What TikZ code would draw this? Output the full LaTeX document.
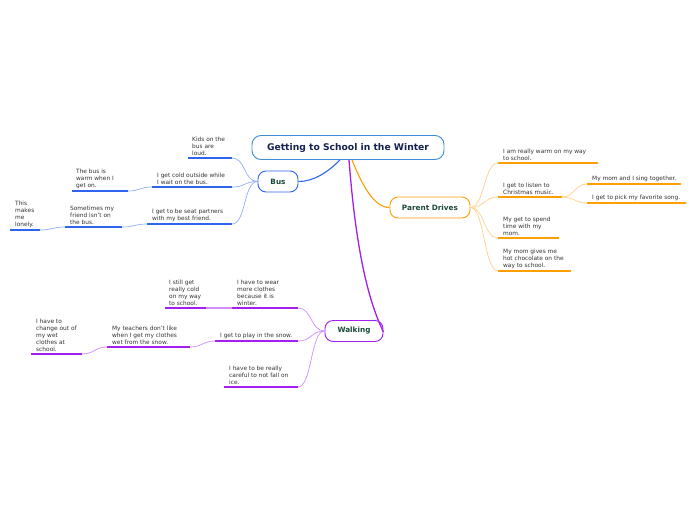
\documentclass[tikz,border=0pt]{standalone}
\usepackage{fontspec}
\setmainfont{DejaVu Sans}
\definecolor{rootline}{HTML}{3A8FD8}
\definecolor{roottext}{HTML}{14224F}
\definecolor{topictext}{HTML}{1B4A3C}
\definecolor{leaftext}{HTML}{333333}
\definecolor{cblue}{HTML}{2F64F0}
\definecolor{lblue}{HTML}{8FACF6}
\definecolor{corange}{HTML}{FF9E00}
\definecolor{lorange}{HTML}{FFD08A}
\definecolor{cpurple}{HTML}{A21FF0}
\definecolor{lpurple}{HTML}{CF8FF6}
\begin{document}
\begin{tikzpicture}[x=1pt,y=-1pt,
  topic/.style={draw, rounded corners=8pt, line width=0.9pt, fill=white,
    font=\fontsize{7.3}{8}\selectfont\bfseries, text=topictext, minimum height=21pt, inner sep=0pt},
  leaf/.style={anchor=south west, inner sep=0pt, align=left,
    font=\fontsize{5.85}{7}\selectfont, text=leaftext},
  uline/.style={line width=1.3pt},
  link/.style={line width=0.7pt},
  mainlink/.style={line width=1.1pt}]
\useasboundingbox (0,0) rectangle (696,520);

% root
\node[draw=rootline, line width=0.9pt, rounded corners=9pt, fill=white, minimum width=192pt,
  minimum height=24pt, inner sep=0pt, font=\fontsize{9.2}{11}\selectfont\bfseries, text=roottext]
  (root) at (348,147.5) {Getting to School in the Winter};

% topics
\node[topic, draw=cblue, minimum width=40pt] (bus) at (278,181.5) {Bus};
\node[topic, draw=corange, minimum width=80pt] (par) at (430,207.5) {Parent Drives};
\node[topic, draw=cpurple, minimum width=58pt] (walk) at (354,331) {Walking};

\coordinate (rb) at ([xshift=-8pt]root.south);
\coordinate (ro) at ([xshift=4pt]root.south);
\coordinate (rp) at ([xshift=1pt]root.south);
\coordinate (wr) at ([yshift=-1pt]walk.east);

\draw[mainlink, cblue] (rb) .. controls (328,172) and (314,181.5) .. (bus.east);
\draw[mainlink, corange] (ro) .. controls (362,185) and (374,207.5) .. (par.west);
\draw[mainlink, cpurple, line width=1.3pt] (rp) .. controls (356,250) and (368,300) .. (wr);

% ---------- Bus branch ----------
\draw[uline, cblue] (188,158) coordinate (b1l) -- (232,158) coordinate (b1r);
\node[leaf] (b1) at (192,155.5) {Kids on the\\bus are\\loud.};
\draw[uline, cblue] (152,187) coordinate (b2l) -- (232,187) coordinate (b2r);
\node[leaf] (b2) at (157,184.5) {I get cold outside while\\I wait on the bus.};
\draw[uline, cblue] (72,191) coordinate (b2al) -- (128,191) coordinate (b2ar);
\node[leaf] (b2a) at (76,188.5) {The bus is\\warm when I\\get on.};
\draw[uline, cblue] (147,224) coordinate (b3l) -- (232,224) coordinate (b3r);
\node[leaf] (b3) at (152,221.5) {I get to be seat partners\\with my best friend.};
\draw[uline, cblue] (65,227) coordinate (b3al) -- (122,227) coordinate (b3ar);
\node[leaf] (b3a) at (70,224.5) {Sometimes my\\friend isn't on\\the bus.};
\draw[uline, cblue] (10,230) coordinate (b3bl) -- (40,230) coordinate (b3br);
\node[leaf] (b3b) at (15,227.5) {This\\makes\\me\\lonely.};

\foreach \t in {b1r,b2r,b3r}
  \draw[link, lblue] (bus.west) .. controls +(-14,0) and +(14,0) .. (\t);
\draw[link, lblue] (b2l) .. controls +(-12,0) and +(12,0) .. (b2ar);
\draw[link, lblue] (b3l) .. controls +(-12,0) and +(12,0) .. (b3ar);
\draw[link, lblue] (b3al) .. controls +(-12,0) and +(12,0) .. (b3br);

% ---------- Parent Drives branch ----------
\draw[uline, corange] (498,163) coordinate (p1l) -- (598,163) coordinate (p1r);
\node[leaf] (p1) at (503,160.5) {I am really warm on my way\\to school.};
\draw[uline, corange] (498,197) coordinate (p2l) -- (562,197) coordinate (p2r);
\node[leaf] (p2) at (503,194.5) {I get to listen to\\Christmas music.};
\draw[uline, corange] (587,184) coordinate (p2al) -- (681,184) coordinate (p2ar);
\node[leaf] (p2a) at (592,181.5) {My mom and I sing together.};
\draw[uline, corange] (587,203) coordinate (p2bl) -- (686,203) coordinate (p2br);
\node[leaf] (p2b) at (592,200.5) {I get to pick my favorite song.};
\draw[uline, corange] (498,238) coordinate (p3l) -- (559,238) coordinate (p3r);
\node[leaf] (p3) at (503,235.5) {My get to spend\\time with my\\mom.};
\draw[uline, corange] (498,271) coordinate (p4l) -- (571,271) coordinate (p4r);
\node[leaf] (p4) at (503,268.5) {My mom gives me\\hot chocolate on the\\way to school.};

\foreach \t in {p1l,p2l,p3l,p4l}
  \draw[link, lorange] (par.east) .. controls +(14,0) and +(-14,0) .. (\t);
\foreach \t in {p2al,p2bl}
  \draw[link, lorange] (p2r) .. controls +(12,0) and +(-12,0) .. (\t);

% ---------- Walking branch ----------
\draw[uline, cpurple] (232,308) coordinate (w1l) -- (298,308) coordinate (w1r);
\node[leaf] (w1) at (237,305.5) {I have to wear\\more clothes\\because it is\\winter.};
\draw[uline, cpurple] (165,308) coordinate (w1al) -- (206,308) coordinate (w1ar);
\node[leaf] (w1a) at (169,305.5) {I still get\\really cold\\on my way\\to school.};
\draw[uline, cpurple] (215,341) coordinate (w2l) -- (298,341) coordinate (w2r);
\node[leaf] (w2) at (220,338.5) {I get to play in the snow.};
\draw[uline, cpurple] (107,347) coordinate (w2al) -- (190,347) coordinate (w2ar);
\node[leaf] (w2a) at (112,344.5) {My teachers don't like\\when I get my clothes\\wet from the snow.};
\draw[uline, cpurple] (31,354) coordinate (w2bl) -- (82,354) coordinate (w2br);
\node[leaf] (w2b) at (36,351.5) {I have to\\change out of\\my wet\\clothes at\\school.};
\draw[uline, cpurple] (224,387) coordinate (w3l) -- (298,387) coordinate (w3r);
\node[leaf] (w3) at (229,384.5) {I have to be really\\careful to not fall on\\ice.};

\foreach \t in {w1r,w2r,w3r}
  \draw[link, lpurple] (walk.west) .. controls +(-14,0) and +(14,0) .. (\t);
\draw[uline, lpurple] (w1l) -- (w1ar);
\draw[link, lpurple] (w2l) .. controls +(-12,0) and +(12,0) .. (w2ar);
\draw[link, lpurple] (w2al) .. controls +(-12,0) and +(12,0) .. (w2br);
\end{tikzpicture}
\end{document}
